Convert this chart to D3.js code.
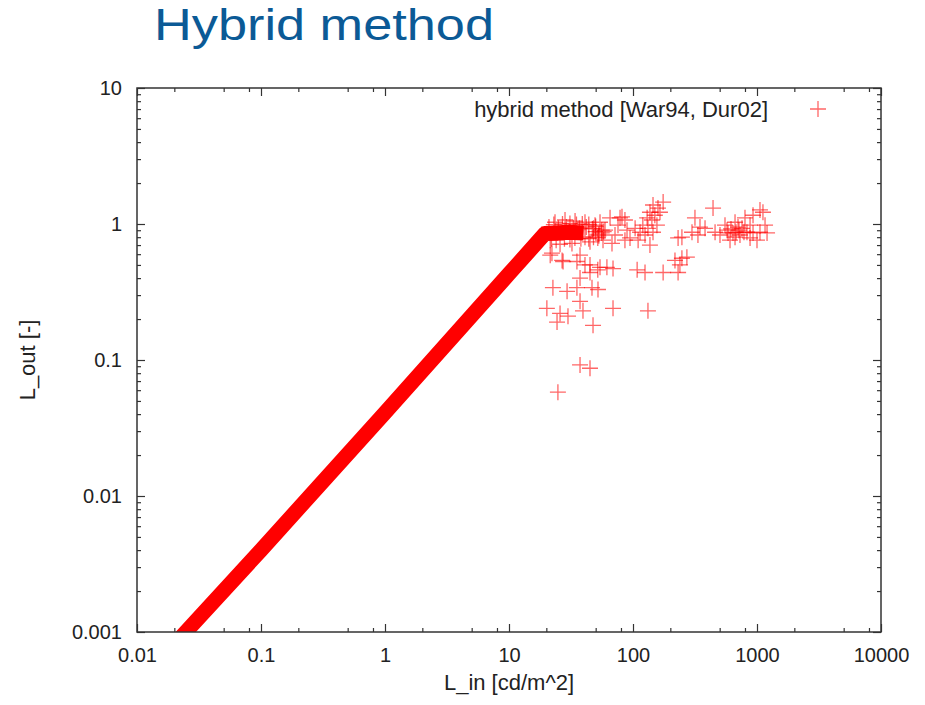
<!DOCTYPE html>
<html>
<head>
<meta charset="utf-8">
<script src="https://cdn.jsdelivr.net/npm/d3@7"></script>
<style>
body { margin: 0; background: #fff; }
svg text { font-family: "Liberation Sans", Arial, Helvetica, sans-serif; }
</style>
</head>
<body>
<script>
var titleText = "Hybrid method"
var legendText = "hybrid method [War94, Dur02]"
var xLabel = "L_in [cd/m^2]"
var yLabel = "L_out [-]"

var xTicks = [0.01, 0.1, 1, 10, 100, 1000, 10000]
var xTickLabels = ["0.01", "0.1", "1", "10", "100", "1000", "10000"]
var yTicks = [0.001, 0.01, 0.1, 1, 10]
var yTickLabels = ["0.001", "0.01", "0.1", "1", "10"]

// dense part: the points lie so close they form a solid band
var bandLin  = [0.021, 0.1, 1, 10, 19.5, 30, 40]
var bandLout = [0.00085, 0.0040, 0.041, 0.43, 0.85, 0.87, 0.86]

// scattered points (L_in, L_out)
var scatterLin = [
  22.2, 26.8, 37.4, 41.0, 54.2, 69.0, 45.0, 37.4, 108, 125, 175, 218,
  22.6, 29.4, 35.3, 46.7, 52.2, 37.4, 20.2, 25.8, 29.9, 39.5, 69.0, 132,
  24.4, 47.6, 37.4, 45.0, 24.8, 21.5, 27.3, 35.3, 45, 52, 61.6,
  54.2, 59.5, 65.3, 71.6, 75.7, 81.5, 86.1, 67.7, 57.3, 89.5,
  175, 145, 159, 137, 150, 130, 142, 120, 132, 114, 125, 104, 94.6, 145, 137, 86.1, 78.6, 110, 156, 165,
  231, 248, 299, 316, 347, 381, 334, 442, 248, 272, 239, 231,
  503, 573, 640, 729, 830, 929, 1057, 800, 929, 1057, 879, 703, 606, 1000, 459, 552, 665, 757, 879,
  1161, 1205, 1117, 665, 584, 678, 785, 617, 716,
  23.5, 28.3, 34.1, 41.0, 49.4, 25.8, 32.2, 45, 21.5,
  50, 53, 56, 48, 52, 58,
  21, 23, 25, 27, 29, 31, 33, 35, 37, 39, 42, 44, 47, 50,
  22, 24, 28, 31, 34, 38, 41, 44, 48, 53, 56
]
var scatterLout = [
  0.61, 0.54, 0.59, 0.50, 0.48, 0.47, 0.44, 0.40, 0.46, 0.44, 0.44, 0.54,
  0.34, 0.32, 0.34, 0.34, 0.33, 0.27, 0.24, 0.22, 0.21, 0.23, 0.24, 0.23,
  0.19, 0.18, 0.092, 0.087, 0.058, 0.59, 0.53, 0.53, 0.50, 0.46, 0.48,
  1.03, 0.90, 1.11, 0.83, 0.98, 1.13, 0.76, 0.72, 0.76, 0.90,
  1.45, 1.38, 1.31, 1.22, 1.16, 1.11, 1.07, 0.98, 0.93, 0.87, 0.83, 0.93, 0.79, 0.87, 0.70, 1.07, 1.11, 0.76, 0.98, 1.22,
  0.79, 0.80, 0.87, 1.11, 0.95, 0.93, 0.83, 1.31, 0.56, 0.57, 0.50, 0.44,
  0.83, 0.90, 0.86, 0.83, 0.87, 0.86, 0.87, 1.11, 1.16, 1.27, 0.98, 0.95, 0.76, 0.76, 0.87, 0.98, 1.03, 0.93, 0.79,
  0.98, 0.86, 1.22, 0.80, 0.86, 0.87, 0.87, 0.92, 0.90,
  1.03, 1.07, 1.05, 1.03, 0.98, 0.71, 0.72, 0.74, 0.76,
  0.88, 0.84, 0.86, 0.93, 0.79, 0.88,
  0.95, 0.99, 0.93, 1.00, 0.95, 1.01, 0.94, 0.99, 0.93, 1.00, 0.95, 0.99, 0.92, 0.96,
  0.78, 0.76, 0.78, 0.77, 0.79, 0.78, 0.80, 0.78, 0.80, 0.82, 0.90
]

var plotLeft = 137, plotRight = 881, plotTop = 88, plotBottom = 632
var red = "#ff0000"
var plusPath = "M-8,0H8M0,-8V8"

var svg = d3.select("body").append("svg")
    .attr("width", 925)
    .attr("height", 705)

var x = d3.scaleLog().domain([0.01, 10000]).range([plotLeft, plotRight])
var y = d3.scaleLog().domain([0.001, 10]).range([plotBottom, plotTop])

function minors(lo, hi, mult) {
    var out = []
    for (var d = lo; d < hi; d *= 10) {
        mult.forEach(function (m) { out.push(d * m) })
    }
    return out
}
var xMinor = minors(0.01, 10000, [2, 5, 8])
var yMinor = minors(0.001, 10, [2, 3, 4, 5, 6, 7, 8, 9])

// title
svg.append("text")
    .attr("x", 154)
    .attr("y", 40)
    .attr("textLength", 340)
    .attr("lengthAdjust", "spacingAndGlyphs")
    .style("font-size", "44px")
    .style("fill", "#0b5a96")
    .text(titleText)

svg.append("clipPath").attr("id", "plotclip")
    .append("rect")
    .attr("x", plotLeft).attr("y", plotTop)
    .attr("width", plotRight - plotLeft).attr("height", plotBottom - plotTop)

var plot = svg.append("g").attr("clip-path", "url(#plotclip)")

var line = d3.line()
    .x(function (d) { return x(d[0]) })
    .y(function (d) { return y(d[1]) })

plot.append("path")
    .datum(d3.zip(bandLin, bandLout))
    .attr("d", line)
    .attr("fill", "none")
    .attr("stroke", red)
    .attr("stroke-width", 15)
    .attr("stroke-linejoin", "round")

svg.append("g").selectAll("path")
    .data(d3.zip(scatterLin, scatterLout))
    .enter()
    .append("path")
    .attr("transform", function (d) { return "translate(" + x(d[0]) + "," + y(d[1]) + ")" })
    .attr("d", plusPath)
    .attr("stroke", red)
    .attr("stroke-width", 1.3)
    .attr("stroke-opacity", 0.6)
    .attr("fill", "none")

// axes, ticks pointing inwards on all four sides
function styleAxis(g) {
    g.select(".domain").remove()
    g.selectAll("line").attr("stroke", "#333").attr("stroke-width", 1.2)
    g.selectAll("text").style("font-size", "20px").style("fill", "#222")
}

svg.append("g").attr("transform", "translate(0," + plotBottom + ")")
    .call(d3.axisBottom(x).tickValues(xTicks).tickFormat(function (d, i) { return xTickLabels[i] }).tickSize(-8).tickPadding(16))
    .call(styleAxis)
svg.append("g").attr("transform", "translate(0," + plotBottom + ")")
    .call(d3.axisBottom(x).tickValues(xMinor).tickFormat("").tickSize(-4))
    .call(styleAxis)
svg.append("g").attr("transform", "translate(0," + plotTop + ")")
    .call(d3.axisTop(x).tickValues(xTicks).tickFormat("").tickSize(-8))
    .call(styleAxis)
svg.append("g").attr("transform", "translate(0," + plotTop + ")")
    .call(d3.axisTop(x).tickValues(xMinor).tickFormat("").tickSize(-4))
    .call(styleAxis)

svg.append("g").attr("transform", "translate(" + plotLeft + ",0)")
    .call(d3.axisLeft(y).tickValues(yTicks).tickFormat(function (d, i) { return yTickLabels[i] }).tickSize(-8).tickPadding(15))
    .call(styleAxis)
svg.append("g").attr("transform", "translate(" + plotLeft + ",0)")
    .call(d3.axisLeft(y).tickValues(yMinor).tickFormat("").tickSize(-4))
    .call(styleAxis)
svg.append("g").attr("transform", "translate(" + plotRight + ",0)")
    .call(d3.axisRight(y).tickValues(yTicks).tickFormat("").tickSize(-8))
    .call(styleAxis)
svg.append("g").attr("transform", "translate(" + plotRight + ",0)")
    .call(d3.axisRight(y).tickValues(yMinor).tickFormat("").tickSize(-4))
    .call(styleAxis)

svg.append("rect")
    .attr("x", plotLeft).attr("y", plotTop)
    .attr("width", plotRight - plotLeft).attr("height", plotBottom - plotTop)
    .attr("fill", "none")
    .attr("stroke", "#333")
    .attr("stroke-width", 1.5)

// legend
svg.append("text")
    .attr("x", 768)
    .attr("y", 117)
    .attr("text-anchor", "end")
    .style("font-size", "22px")
    .style("fill", "#222")
    .text(legendText)
svg.append("path")
    .attr("transform", "translate(818,109)")
    .attr("d", plusPath)
    .attr("stroke", red)
    .attr("stroke-width", 1.3)
    .attr("stroke-opacity", 0.6)
    .attr("fill", "none")

// axis titles
svg.append("text")
    .attr("x", (plotLeft + plotRight) / 2)
    .attr("y", 690)
    .attr("text-anchor", "middle")
    .style("font-size", "22px")
    .style("fill", "#222")
    .text(xLabel)
svg.append("text")
    .attr("transform", "translate(35," + ((plotTop + plotBottom) / 2) + ") rotate(-90)")
    .attr("text-anchor", "middle")
    .style("font-size", "22px")
    .style("fill", "#222")
    .text(yLabel)
</script>
</body>
</html>
